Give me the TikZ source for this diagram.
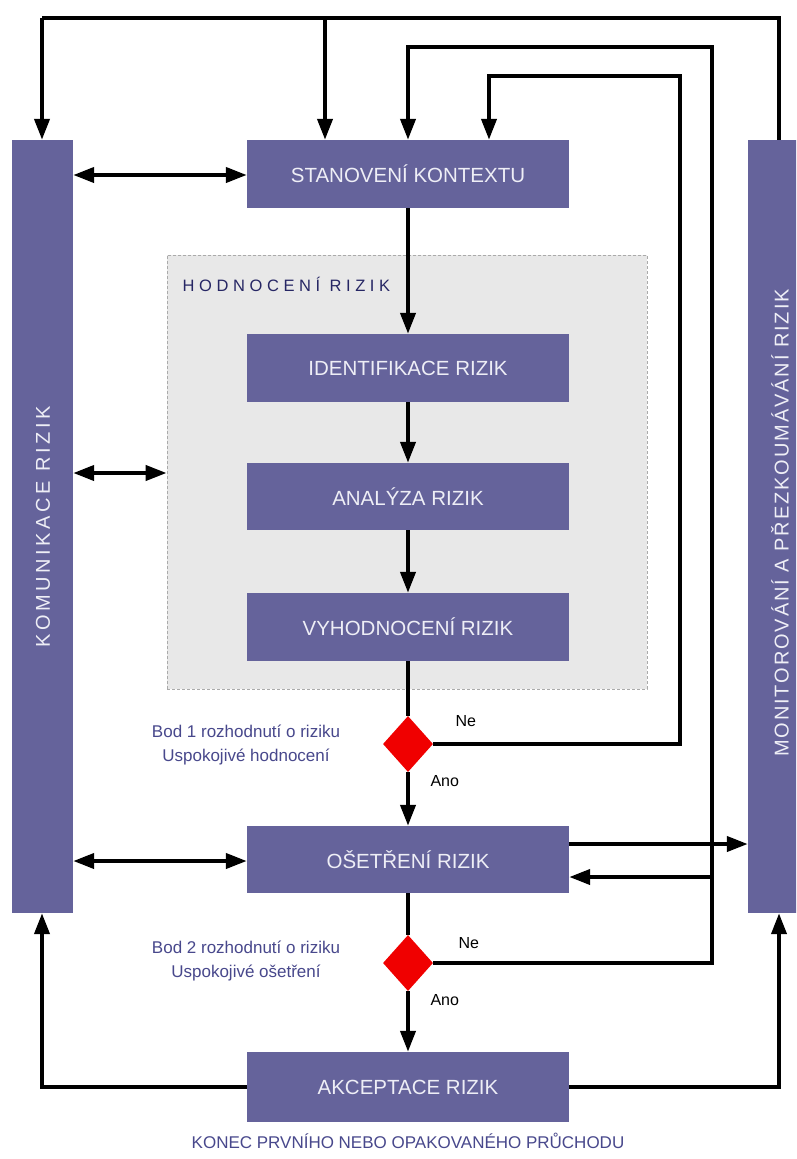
\documentclass[tikz,border=0pt]{standalone}
\usepackage{fontspec}
\setmainfont{Liberation Sans}
\usetikzlibrary{arrows.meta,shapes.geometric}
\definecolor{boxc}{RGB}{101,99,155}
\definecolor{boxtxt}{RGB}{238,238,246}
\definecolor{grayfill}{RGB}{232,232,232}
\definecolor{grayline}{RGB}{170,170,170}
\definecolor{navy}{RGB}{38,38,100}
\definecolor{bluetxt}{RGB}{72,72,140}
\definecolor{diamc}{RGB}{240,0,0}
\tikzset{
  procbox/.style={rectangle, fill=boxc, draw=none, minimum width=322pt, minimum height=68pt, inner sep=0pt, text=boxtxt, font=\fontsize{20.5}{24}\selectfont},
  barbox/.style={rectangle, fill=boxc, draw=none, minimum width=61pt, minimum height=773pt, inner sep=0pt},
  bartext/.style={rotate=90, text=boxtxt, font=\fontsize{20}{24}\selectfont},
  decision/.style={diamond, fill=diamc, draw=none, minimum width=50pt, minimum height=56pt, inner sep=0pt, aspect=0.9},
  conn/.style={line width=4pt, draw=black},
  arr/.style={conn, -{Triangle[length=21pt,width=15pt]}},
  darr/.style={conn, {Triangle[length=21pt,width=15pt]}-{Triangle[length=21pt,width=15pt]}},
  smalltxt/.style={text=bluetxt, font=\fontsize{17}{24}\selectfont, align=center},
  yn/.style={text=black, font=\fontsize{16}{19}\selectfont}
}
\begin{document}
\begin{tikzpicture}[x=1pt,y=-1pt]
\useasboundingbox (0,0) rectangle (796,1159);
\clip (0,0) rectangle (796,1159);
\fill[white] (0,0) rectangle (796,1159);
% gray evaluation area
\node[draw=grayline, fill=grayfill, densely dashed, line width=0.8pt, minimum width=480pt, minimum height=434pt, inner sep=0pt] (hod) at (407,472) {};
\node[anchor=west, text=navy, font=\fontsize{16.5}{20}\selectfont\addfontfeature{LetterSpace=28}] (hodlbl) at (179,284) {HODNOCENÍ RIZIK};
% bars
\node[barbox] (kom) at (42.5,526.5) {};
\node[bartext, font=\fontsize{20}{24}\selectfont\addfontfeature{LetterSpace=18}] (komt) at (43,527) {KOMUNIKACE RIZIK};
\node[barbox, minimum width=62pt] (mon) at (779,526.5) {};
\node[bartext, font=\fontsize{20}{24}\selectfont\addfontfeature{LetterSpace=9.5}] (mont) at (780,523) {MONITOROVÁNÍ A PŘEZKOUMÁVÁNÍ RIZIK};
% process boxes
\node[procbox] (stan) at (408,174) {STANOVENÍ KONTEXTU};
\node[procbox] (iden) at (408,368) {IDENTIFIKACE RIZIK};
\node[procbox, minimum height=67pt] (anal) at (408,496.5) {ANALÝZA RIZIK};
\node[procbox] (vyh) at (408,627) {VYHODNOCENÍ RIZIK};
\node[procbox, minimum height=67pt] (oset) at (408,859.5) {OŠETŘENÍ RIZIK};
\node[procbox, minimum height=70pt] (akc) at (408,1087) {AKCEPTACE RIZIK};
% decisions
\node[decision] (d1) at (408,744) {};
\node[decision] (d2) at (408,963) {};
% coordinates
\coordinate (tl) at (42,18);
\coordinate (tr) at (779,18);
\coordinate (tm) at (325,18);
\coordinate (l2a) at (712,47);
\coordinate (l2b) at (408,47);
\coordinate (l3a) at (680,76);
\coordinate (l3b) at (489,76);
\coordinate (r2) at (712,963);
\coordinate (r1) at (680,744);
\coordinate (br) at (712,877);
\coordinate (bl) at (42,1087);
\coordinate (brr) at (779,1087);
% vertical chain
\draw[arr] (stan.south) -- (iden.north);
\draw[arr] (iden.south) -- (anal.north);
\draw[arr] (anal.south) -- (vyh.north);
\draw[conn] (vyh.south) -- (d1.north);
\draw[arr] (d1.south) -- (oset.north);
\draw[conn] (oset.south) -- (d2.north);
\draw[arr] (d2.south) -- (akc.north);
% top feedback
\draw[conn] (mon.north -| tr) -- (tr) -- (tl);
\draw[arr] (tl) -- (kom.north -| tl);
\draw[arr] (tm) -- (stan.north -| tm);
\draw[arr, line join=miter] (d1.east) -- (r1) -- (l3a) -- (l3b) -- (stan.north -| l3b);
\draw[arr, line join=miter] (d2.east) -- (r2) -- (l2a) -- (l2b) -- (stan.north -| l2b);
\draw[arr] (br) -- (oset.east |- br);
\draw[arr] (oset.east |- 0,844) -- (mon.west |- 0,844);
% communication
\draw[darr] (kom.east |- 0,175) -- (stan.west |- 0,175);
\draw[darr] (kom.east |- 0,473) -- (hod.west |- 0,473);
\draw[darr] (kom.east |- 0,861) -- (oset.west |- 0,861);
% bottom
\draw[arr, line join=miter] (akc.west |- bl) -- (bl) -- (kom.south -| bl);
\draw[arr, line join=miter] (akc.east |- brr) -- (brr) -- (mon.south -| brr);
% labels
\node[yn, anchor=west] (ne1) at (452,721) {Ne};
\node[yn, anchor=west] (ano1) at (427,781) {Ano};
\node[yn, anchor=west] (ne2) at (455,943) {Ne};
\node[yn, anchor=west] (ano2) at (427,1000) {Ano};
\node[smalltxt] (bod1) at (246,745) {Bod 1 rozhodnutí o riziku\\Uspokojivé hodnocení};
\node[smalltxt] (bod2) at (246,961) {Bod 2 rozhodnutí o riziku\\Uspokojivé ošetření};
\node[text=bluetxt, font=\fontsize{17}{20}\selectfont] (konec) at (408,1141) {KONEC PRVNÍHO NEBO OPAKOVANÉHO PRŮCHODU};
\end{tikzpicture}
\end{document}
